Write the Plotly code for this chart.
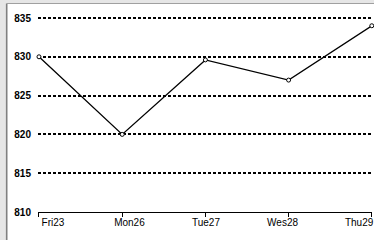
import plotly.graph_objects as go

days = ["Fri23", "Mon26", "Tue27", "Wes28", "Thu29"]
values = [830.0, 820.0, 829.6, 827.0, 834.0]
y_ticks = [810, 815, 820, 825, 830, 835]

W, H = 374, 240
L, R, T, B = 38, 0, 3, 28
pw = W - L - R
ph = H - T - B

xi = list(range(len(days)))
# primary axis: tick i at pixel 39 + s1*i
s1 = 83.7
r0 = -(39 - L) / s1
r1 = r0 + pw / s1
# label axis: label i centered at pixel 53 + 77*i
s2 = 77.0
q0 = -(53 - L) / s2
q1 = q0 + pw / s2

ymin = 810
ymax = ymin + ph / 7.76

fig = go.Figure()
fig.add_trace(go.Scatter(
    x=xi, y=values, mode="lines+markers",
    line=dict(color="black", width=1.3),
    marker=dict(symbol="circle", size=4, color="white", line=dict(color="black", width=1)),
    cliponaxis=False, showlegend=False,
))
# invisible trace for label axis
fig.add_trace(go.Scatter(x=xi, y=values, xaxis="x2", mode="none", showlegend=False, hoverinfo="skip"))

def px2paper_x(p):
    return (p - L) / pw

def py2paper_y(p):
    return 1 - (p - T) / ph

# white panel fill
fig.add_shape(type="rect", xref="paper", yref="paper",
              x0=px2paper_x(7), x1=px2paper_x(380),
              y0=py2paper_y(250), y1=py2paper_y(4),
              line=dict(width=0), fillcolor="white", layer="below")
# panel frame (left and top edges)
fig.add_shape(type="line", xref="paper", yref="paper",
              x0=px2paper_x(6.5), x1=px2paper_x(6.5),
              y0=py2paper_y(3.5), y1=py2paper_y(250),
              line=dict(color="#808080", width=1.6), layer="above")
fig.add_shape(type="line", xref="paper", yref="paper",
              x0=px2paper_x(6.5), x1=px2paper_x(380),
              y0=py2paper_y(3.5), y1=py2paper_y(3.5),
              line=dict(color="#a0a0a0", width=1), layer="above")

fig.update_layout(
    width=W, height=H,
    margin=dict(l=L, r=R, t=T, b=B, pad=0),
    paper_bgcolor="#e6e6e6",
    plot_bgcolor="white",
    font=dict(family="Liberation Sans, Arial, sans-serif", size=10, color="black"),
    xaxis=dict(
        range=[r0, r1], tickvals=xi, ticktext=[""] * len(days), showticklabels=False,
        ticks="outside", ticklen=4, tickcolor="black", tickwidth=1,
        showline=True, linecolor="black", linewidth=1, showgrid=False, zeroline=False,
    ),
    xaxis2=dict(
        range=[q0, q1], overlaying="x", side="bottom", anchor="y",
        tickvals=xi, ticktext=days, ticks="", showline=False, showgrid=False, zeroline=False,
        tickfont=dict(size=10, color="black"), ticklabelstandoff=3,
        ticklabeloverflow="allow",
    ),
    yaxis=dict(
        range=[ymin, ymax], tickvals=y_ticks, ticktext=[str(v) for v in y_ticks],
        ticks="", showline=False, zeroline=False,
        showgrid=True, gridcolor="black", gridwidth=1.5, griddash="3px,2px",
        tickfont=dict(size=10, color="black", weight="bold"), ticklabelstandoff=6,
    ),
)

fig.write_html("out.html", config={"displayModeBar": False},
               post_script="document.body.style.margin='0';document.body.style.overflow='hidden';")
